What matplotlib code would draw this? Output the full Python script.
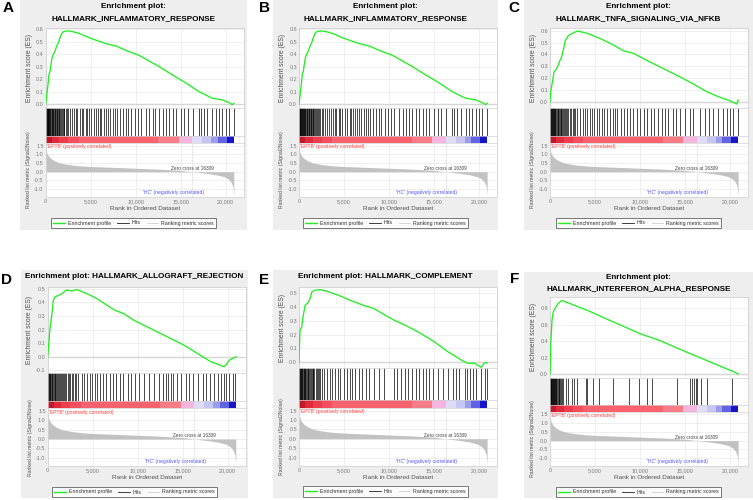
import numpy as np
import matplotlib
matplotlib.use('Agg')
import matplotlib.pyplot as plt
from matplotlib.lines import Line2D

plt.rcParams['font.family'] = ['Liberation Sans', 'DejaVu Sans']

# ---------------- data ----------------
panel_letters = ['A', 'B', 'C', 'D', 'E', 'F']
panel_titles = [
    ['Enrichment plot:', 'HALLMARK_INFLAMMATORY_RESPONSE'],
    ['Enrichment plot:', 'HALLMARK_INFLAMMATORY_RESPONSE'],
    ['Enrichment plot:', 'HALLMARK_TNFA_SIGNALING_VIA_NFKB'],
    ['Enrichment plot: HALLMARK_ALLOGRAFT_REJECTION'],
    ['Enrichment plot: HALLMARK_COMPLEMENT'],
    ['Enrichment plot:', 'HALLMARK_INTERFERON_ALPHA_RESPONSE'],
]

es_x_inflam = [0, 250, 365, 475, 585, 700, 840, 1030, 1215, 1400, 1580, 1770, 1950, 2320, 2690,
               3050, 3790, 4900, 6740, 7850, 8950, 10420, 12630, 13740, 15580, 17050, 18520,
               19630, 20370, 20740, 20920]
es_y_inflam = [0, 0.154, 0.24, 0.26, 0.316, 0.37, 0.40, 0.424, 0.465, 0.49, 0.53, 0.565, 0.58,
               0.586, 0.585, 0.58, 0.565, 0.53, 0.484, 0.465, 0.43, 0.39, 0.30, 0.25, 0.17, 0.10,
               0.048, 0.035, 0.013, -0.003, 0.008]

es_x_tnfa = [0, 110, 300, 440, 740, 920, 1110, 1300, 1480, 1670, 2040, 2410, 3040, 4070, 5560,
             7040, 8150, 9260, 10740, 12590, 14440, 15930, 17410, 18890, 20000, 20740, 20920]
es_y_tnfa = [0, 0.1, 0.18, 0.25, 0.28, 0.31, 0.35, 0.38, 0.435, 0.51, 0.56, 0.575, 0.597, 0.58,
             0.535, 0.48, 0.43, 0.41, 0.35, 0.28, 0.21, 0.15, 0.085, 0.037, 0.008, -0.02, 0.014]

es_x_allo = [0, 150, 260, 450, 630, 820, 1190, 1560, 2120, 2680, 3240, 4360, 5470, 6590, 7520,
             8450, 9570, 10690, 12180, 13670, 15160, 16650, 18140, 18880, 19550, 19810, 20190,
             20740, 20930]
es_y_allo = [0, 0.12, 0.21, 0.305, 0.415, 0.44, 0.45, 0.463, 0.49, 0.483, 0.493, 0.463, 0.427,
             0.378, 0.34, 0.317, 0.268, 0.232, 0.183, 0.134, 0.085, 0.024, -0.037, -0.054,
             -0.073, -0.06, -0.024, -0.005, 0.0]

es_x_comp = [0, 110, 300, 480, 670, 1040, 1230, 1420, 1790, 2350, 3100, 3840, 4400, 5710, 7200,
             8320, 9440, 10560, 12050, 13540, 15040, 16530, 18020, 18770, 19510, 20260, 20630,
             20900]
es_y_comp = [0, 0.23, 0.256, 0.34, 0.41, 0.435, 0.46, 0.507, 0.52, 0.524, 0.514, 0.495, 0.483,
             0.447, 0.41, 0.388, 0.345, 0.304, 0.26, 0.208, 0.148, 0.077, 0.017, -0.007, -0.007,
             -0.036, -0.002, -0.005]

es_x_ifna = [0, 110, 225, 370, 560, 930, 1300, 1670, 2600, 4460, 6320, 8180, 10040, 12270,
             14870, 18590, 20450, 20900]
es_y_ifna = [0, 0.417, 0.66, 0.76, 0.80, 0.86, 0.893, 0.88, 0.84, 0.76, 0.667, 0.578, 0.489,
             0.404, 0.28, 0.11, 0.025, 0.0]

hits_inflam = [20, 60, 110, 150, 200, 260, 310, 370, 420, 480, 530, 600, 660, 720, 790, 850, 920,
               990, 1060, 1130, 1200, 1280, 1350, 1430, 1520, 1600, 1700, 1790, 1880, 1980, 2080,
               2200, 2320, 2500, 2690, 2870, 3130, 3350, 3500, 3790, 3980, 4160, 4460, 4600,
               4820, 5080, 5340, 5630, 5820, 6000, 6190, 6450, 6670, 6920, 7180, 7480, 7660,
               7920, 8210, 8580, 8880, 9130, 9500, 9870, 10240, 10610, 11160, 11530, 11900,
               12190, 12560, 13000, 13370, 13740, 14110, 14470, 15030, 15390, 15760, 16320,
               16980, 17240, 17600, 17970, 18520, 18890, 19260, 19630, 20000, 20370, 20920]
hits_tnfa = [15, 50, 95, 140, 190, 240, 290, 350, 410, 470, 530, 600, 680, 760, 840, 920, 1000,
             1080, 1170, 1260, 1350, 1450, 1560, 1680, 1800, 1920, 2050, 2200, 2350, 2500, 2650,
             2820, 3000, 3330, 3630, 3890, 4150, 4440, 4670, 4930, 5190, 5480, 5740, 6000, 6300,
             6670, 6960, 7220, 7480, 7850, 8220, 8520, 8890, 9190, 9630, 10000, 10440, 10740,
             11190, 11560, 12040, 12410, 12780, 13150, 13630, 14000, 14450, 15000, 15560,
             15930, 16670, 17220, 17700, 18150, 18700, 19190, 19630, 20000, 20370, 20920]
hits_allo = [10, 60, 120, 180, 240, 310, 380, 450, 520, 600, 680, 760, 850, 940, 1030, 1130,
             1230, 1340, 1450, 1560, 1680, 1800, 1930, 2060, 2200, 2350, 2500, 2660, 2820, 2990,
             3160, 3350, 3800, 4060, 4360, 4660, 4920, 5210, 5470, 5850, 6140, 6520, 6890, 7260,
             7630, 8010, 8420, 8900, 9270, 9650, 10130, 10690, 11250, 11800, 12360, 12850,
             13110, 13370, 13670, 13970, 14340, 14780, 15340, 15720, 16090, 16650, 17210,
             17580, 18060, 18510, 18880, 19250, 19550, 19810, 20180, 20560, 20820]
hits_comp = [10, 50, 100, 150, 200, 260, 320, 380, 440, 500, 570, 640, 710, 790, 870, 950, 1030,
             1120, 1210, 1300, 1400, 1500, 1610, 1720, 1840, 1960, 2090, 2230, 2380, 2540, 2800,
             3100, 3400, 3690, 4030, 4290, 4590, 4960, 5340, 5630, 5900, 6270, 6640, 7010, 7390,
             7760, 8320, 8880, 9440, 10560, 10930, 11380, 11750, 12130, 12500, 12980, 13360,
             13730, 14100, 14480, 14850, 15410, 15970, 16530, 17090, 17460, 17830, 18390,
             18690, 18990, 19330, 19700, 20260, 20630, 20860]
hits_ifna = [10, 40, 80, 120, 160, 200, 250, 300, 350, 400, 460, 520, 580, 650, 720, 800, 880,
             960, 1050, 1140, 1240, 1340, 1450, 1750, 2040, 2420, 2680, 2970, 4010, 4160, 4830,
             5430, 6990, 8730, 9850, 10780, 11340, 14120, 15610, 15800, 15980, 16170, 16350,
             16730, 17470, 20260]

# ranked list metric (Signal2Noise), shared by all panels
rank_x = [0, 100, 300, 600, 1000, 1500, 2000, 3000, 4000, 5000, 7500, 10000, 12500, 15000,
          16309, 17000, 18000, 19000, 19800, 20300, 20600, 20800, 20900]
rank_y = [1.55, 1.1, 0.9, 0.75, 0.62, 0.52, 0.46, 0.38, 0.33, 0.30, 0.25, 0.20, 0.15, 0.08,
          0.0, -0.04, -0.10, -0.18, -0.28, -0.42, -0.60, -0.85, -1.35]
zero_cross = 16309

# phenotype colour bar blocks
cbar_edges = [0, 700, 1500, 2500, 3700, 12500, 14800, 16300, 17400, 18400, 19100, 20100, 20900]
cbar_colors = ['#c4182a', '#de2a3a', '#ee3c4c', '#f44e5e', '#f8626f', '#f87c86', '#f4b6de',
               '#dedcf6', '#c6c6f2', '#9c9cee', '#6262e4', '#1616c8']

es_x_list = [es_x_inflam, es_x_inflam, es_x_tnfa, es_x_allo, es_x_comp, es_x_ifna]
es_y_list = [es_y_inflam, es_y_inflam, es_y_tnfa, es_y_allo, es_y_comp, es_y_ifna]
hits_list = [hits_inflam, hits_inflam, hits_tnfa, hits_allo, hits_comp, hits_ifna]
es_yticks = [np.arange(0, 0.61, 0.1), np.arange(0, 0.61, 0.1), np.arange(0, 0.61, 0.1),
             np.arange(-0.1, 0.51, 0.1), np.arange(0, 0.51, 0.1), np.arange(0, 0.81, 0.2)]
es_ylims = [(-0.03, 0.61), (-0.03, 0.61), (-0.053, 0.623), (-0.115, 0.512), (-0.043, 0.543),
            (-0.049, 0.94)]
rank_ticks = [1.5, 1.0, 0.5, 0.0, -0.5, -1.0]
x_ticks = [0, 5000, 10000, 15000, 20000]
x_ticklabels = ['0', '5,000', '10,000', '15,000', '20,000']

# ---------------- layout (pixels) ----------------
W, H = 753, 500
fig = plt.figure(figsize=(W / 100, H / 100), dpi=100)


def box(x, y, w, h):
    return [x / W, 1 - (y + h) / H, w / W, h / H]


# per panel: gray x0, gray x1, gray y0, gray y1, plot left, title y's, es, hits, cbar, rank, legend y, letter xy
layout = [
    dict(gx=(20, 247), gy=(0, 230), L=45.7, ty=[7, 19], es=(28, 108), hit=(108, 136), cb=(136, 143),
         rk=(143, 197), lg=223, let=(8, 8)),
    dict(gx=(272.7, 498), gy=(0, 230), L=299, ty=[7, 19], es=(28, 108), hit=(108, 136), cb=(136, 143),
         rk=(143, 197), lg=223, let=(264, 8)),
    dict(gx=(524, 753), gy=(0, 230), L=550, ty=[7, 19], es=(28, 108), hit=(108, 136), cb=(136, 143),
         rk=(143, 197), lg=223, let=(514, 8)),
    dict(gx=(20.7, 248), gy=(270, 498), L=47.7, ty=[277], es=(287, 372.5), hit=(372.5, 400.7),
         cb=(400.7, 408.3), rk=(408.3, 466), lg=492, let=(7, 280)),
    dict(gx=(272.7, 498), gy=(270, 498), L=299, ty=[277], es=(287, 368.3), hit=(368.3, 400),
         cb=(400, 407.7), rk=(407.7, 466), lg=491.5, let=(264, 280.5)),
    dict(gx=(524, 753), gy=(271.7, 498), L=550, ty=[277.5, 288.5], es=(296.7, 378), hit=(378, 405),
         cb=(405, 411.7), rk=(411.7, 466), lg=492, let=(515, 279)),
]

PW = 198
XMAX = 22000
GRAY = '#eeeeee'
GRID = '#e4e4e4'
TICKC = '#7a7a7a'

for i, lay in enumerate(layout):
    gx0, gx1 = lay['gx']
    gy0, gy1 = lay['gy']
    L = lay['L']
    cx = (gx0 + gx1) / 2

    bg = fig.add_axes(box(gx0, gy0, gx1 - gx0, gy1 - gy0))
    bg.set_facecolor(GRAY)
    bg.set_xticks([]); bg.set_yticks([])
    for s in bg.spines.values():
        s.set_visible(False)
    bg.set_zorder(0)

    # letter
    fig.text(lay['let'][0] / W, 1 - lay['let'][1] / H, panel_letters[i], fontsize=11,
             fontweight='bold', ha='center', va='center')
    # titles
    for t, ty in zip(panel_titles[i], lay['ty']):
        fig.text(cx / W, 1 - ty / H, t, fontsize=5.9, fontweight='bold', ha='center', va='center')

    # ES plot
    e0, e1 = lay['es']
    ax = fig.add_axes(box(L, e0, PW, e1 - e0))
    ax.set_facecolor('white')
    ax.set_xlim(0, XMAX)
    ax.set_ylim(*es_ylims[i])
    ax.plot(es_x_list[i], es_y_list[i], color='#22ee22', lw=0.95, zorder=3)
    ax.axhline(0, color='#d6d6d6', lw=1.0, zorder=1)
    ax.set_yticks(es_yticks[i])
    ax.set_yticklabels([f'{v:.1f}' for v in es_yticks[i]])
    ax.set_xticks(x_ticks)
    ax.tick_params(axis='x', labelbottom=False, length=0)
    ax.tick_params(axis='y', labelsize=3.9, colors=TICKC, length=0, pad=1.5)
    ax.grid(True, color=GRID, lw=0.4)
    ax.set_axisbelow(True)
    for s in ax.spines.values():
        s.set_color('#d0d0d0'); s.set_linewidth(0.6)
    ax.set_ylabel('Enrichment score (ES)', fontsize=4.9, color='#505050', labelpad=2)

    # hits
    h0, h1 = lay['hit']
    axh = fig.add_axes(box(L, h0, PW, h1 - h0))
    axh.set_xlim(0, XMAX); axh.set_ylim(0, 1)
    axh.vlines(hits_list[i], 0, 1, color='black', lw=0.5)
    axh.set_xticks([]); axh.set_yticks([])
    for s in axh.spines.values():
        s.set_color('#d0d0d0'); s.set_linewidth(0.5)

    # colour bar
    c0, c1 = lay['cb']
    axc = fig.add_axes(box(L, c0, PW, c1 - c0))
    axc.set_xlim(0, XMAX); axc.set_ylim(0, 1)
    axc.bar(cbar_edges[:-1], 1, width=np.diff(cbar_edges), align='edge', color=cbar_colors, lw=0)
    axc.set_xticks([]); axc.set_yticks([])
    for s in axc.spines.values():
        s.set_color('#d0d0d0'); s.set_linewidth(0.5)

    # ranked list
    r0, r1 = lay['rk']
    axr = fig.add_axes(box(L, r0, PW, r1 - r0))
    axr.set_facecolor('white')
    axr.set_xlim(0, XMAX)
    axr.set_ylim(-1.45, 1.65)
    axr.fill_between(rank_x, 0, rank_y, color='#c2c2c2', lw=0, zorder=2)
    axr.axvline(zero_cross, color='#c8c8c8', lw=0.5, ls=(0, (2, 2)), zorder=1)
    axr.set_yticks(rank_ticks)
    axr.set_yticklabels([f'{v:.1f}' for v in rank_ticks])
    axr.set_xticks(x_ticks)
    axr.set_xticklabels(x_ticklabels)
    axr.tick_params(labelsize=3.9, colors=TICKC, length=0, pad=1.5)
    axr.grid(True, color=GRID, lw=0.4)
    axr.set_axisbelow(True)
    for s in axr.spines.values():
        s.set_color('#d0d0d0'); s.set_linewidth(0.5)
    axr.set_ylabel('Ranked list metric (Signal2Noise)', fontsize=3.7, color='#505050', labelpad=2.5)
    axr.set_xlabel('Rank in Ordered Dataset', fontsize=4.6, color='#505050', labelpad=1.5)
    axr.text(150, 1.58, "'EPTB' (positively correlated)", color='#ff4444', fontsize=3.6,
             ha='left', va='top', zorder=4)
    axr.text(zero_cross, 0.04, 'Zero cross at 16309', color='#404040', fontsize=3.4,
             ha='center', va='bottom', zorder=4)
    axr.text(14200, -1.2, "'HC' (negatively correlated)", color='#5555ff', fontsize=3.6,
             ha='center', va='center', zorder=4)

    handles = [Line2D([], [], color='#22ee22', lw=1.0),
               Line2D([], [], color='#202020', lw=0.6),
               Line2D([], [], color='#d0d0d0', lw=0.6)]
    leg = fig.legend(handles, ['Enrichment profile', 'Hits', 'Ranking metric scores'],
                     loc='center', bbox_to_anchor=(cx / W, 1 - lay['lg'] / H), ncol=3,
                     fontsize=3.8, frameon=True, fancybox=False, edgecolor='#404040',
                     handlelength=2.2, handletextpad=0.5, columnspacing=1.2, borderpad=0.5,
                     labelcolor='#303030')
    leg.get_frame().set_linewidth(0.6)

fig.savefig('out.png', dpi=100, facecolor='white')
